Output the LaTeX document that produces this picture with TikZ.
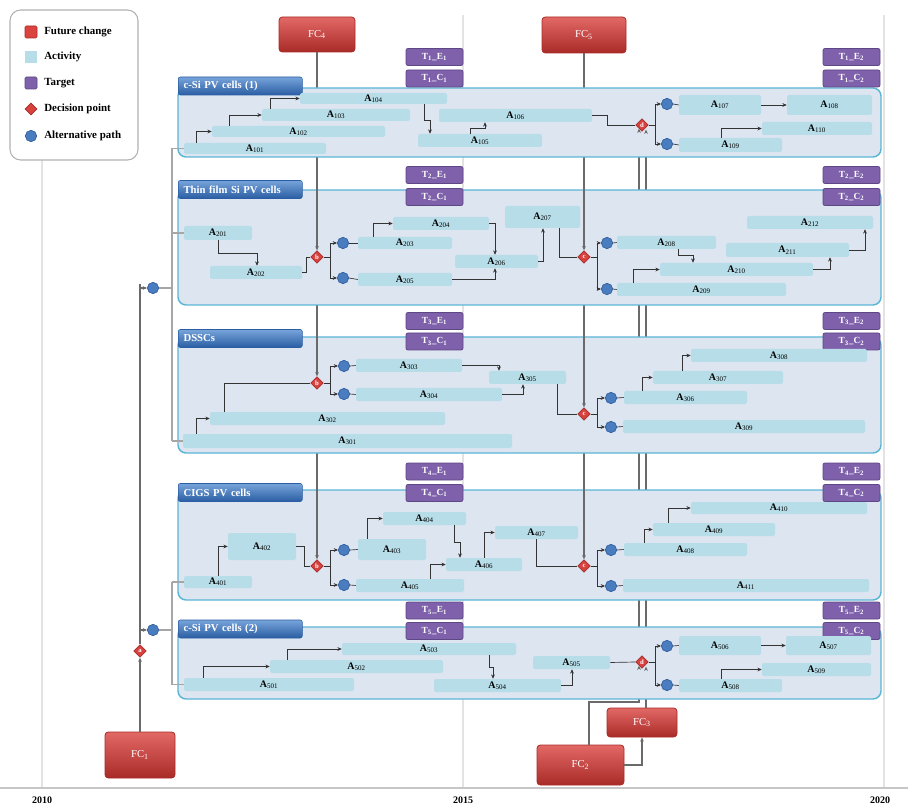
\documentclass[tikz,border=0pt]{standalone}
\usepackage{fontspec}
\setmainfont{Liberation Serif}
\usetikzlibrary{arrows.meta,calc,shapes.geometric}
\definecolor{panelfill}{HTML}{DDE5F1}
\definecolor{panelline}{HTML}{5BB5D5}
\definecolor{actfill}{HTML}{B6DDE8}
\definecolor{tgtfill}{HTML}{7E61AA}
\definecolor{tgtline}{HTML}{5E4785}
\definecolor{fcfill}{HTML}{DB433F}
\definecolor{fcdark}{HTML}{A92B28}
\definecolor{tabfill}{HTML}{3C7DCA}
\definecolor{tabdark}{HTML}{2A5DA3}
\definecolor{altfill}{HTML}{4A7DC0}
\definecolor{altline}{HTML}{2F5E9C}
\definecolor{decfill}{HTML}{D9413E}
\definecolor{decdark}{HTML}{A52E2B}
\definecolor{fcline}{HTML}{6A6A6A}
\definecolor{connline}{HTML}{333333}
\newcommand\actl[1]{A\textsubscript{\mdseries#1}}
\newcommand\tgl[3]{T\textsubscript{#1}\_#2\textsubscript{#3}}
\newcommand\fct[1]{FC\textsubscript{#1}}
\newcommand\BX[7][]{%
  \pgfmathsetmacro\bxw{(#5-#3)*0.75}%
  \pgfmathsetmacro\bxh{(#6-#4)*0.75}%
  \node[#1, minimum width=\bxw pt, minimum height=\bxh pt] (#2) at ({(#3+#5)/2},{(#4+#6)/2}) {#7};}
\begin{document}
\begin{tikzpicture}[x=0.75pt,y=-0.75pt,
 act/.style={fill=actfill, rounded corners=1.2pt, inner sep=0pt, font=\fontsize{7.5}{8}\selectfont\bfseries},
 panel/.style={draw=panelline, fill=panelfill, line width=1.1pt, rounded corners=6pt},
 tab/.style={draw=tabdark, top color=tabfill!70!white, bottom color=tabdark, rounded corners=1.5pt, text=white, font=\fontsize{8}{9}\selectfont\bfseries, text width=85pt, inner xsep=4pt, inner ysep=0pt, align=left, minimum height=13.5pt, anchor=west},
 tgt/.style={draw=tgtline, fill=tgtfill, rounded corners=1.5pt, text=white, font=\fontsize{7}{8}\selectfont\bfseries, minimum width=42.75pt, minimum height=12.75pt, inner sep=0pt, line width=0.6pt},
 fcbox/.style={draw=fcdark, top color=fcfill!80!white, bottom color=fcdark, rounded corners=2.5pt, text=white, font=\fontsize{8}{9}\selectfont, inner sep=0pt, line width=0.6pt},
 alt/.style={circle, draw=altline, fill=altfill, minimum size=8.5pt, inner sep=0pt, line width=0.5pt},
 dec/.style={diamond, draw=decdark, fill=decfill, minimum size=9.5pt, inner sep=0pt, text=white, font=\fontsize{5}{5}\selectfont\bfseries, line width=0.5pt},
 conn/.style={draw=connline, line width=0.5pt, -{Stealth[length=3.2pt,width=2.8pt]}},
 pl/.style={draw=connline, line width=0.5pt},
 trunk/.style={draw=gray!70, line width=0.8pt},
 fcl/.style={draw=fcline, line width=0.8pt},
 fca/.style={draw=fcline, line width=0.8pt, -{Stealth[length=3.2pt,width=2.8pt]}},
 grid/.style={draw=gray!22, line width=0.9pt},
 legtext/.style={font=\fontsize{8.2}{9}\selectfont\bfseries, anchor=west, inner sep=0pt},
 yr/.style={font=\fontsize{7.5}{8}\selectfont\bfseries, inner sep=0pt}
]
\useasboundingbox (0,0) rectangle (908,806);

% ---------- year axis & grid ----------
\coordinate (ax0) at (0,788);
\coordinate (ax1) at (908,788);
\coordinate (g1t) at (42,15);
\coordinate (g2t) at (463,15);
\coordinate (g3t) at (884,15);
\draw[grid] (g1t) -- (g1t |- ax0);
\draw[grid] (g2t) -- (g2t |- ax0);
\draw[grid] (g3t) -- (g3t |- ax0);
\draw[draw=gray!45, line width=1.4pt] (ax0) -- (ax1);
\node[yr] (y2010) at (42,800) {2010};
\node[yr] (y2015) at (463,800) {2015};
\node[yr] (y2020) at (880,800) {2020};

% ---------- decision positions ----------
\coordinate (pd1) at (642,125);
\coordinate (pb2) at (317,257);
\coordinate (pc2) at (584,257);
\coordinate (pb3) at (317,383);
\coordinate (pc3) at (584,414);
\coordinate (pb4) at (317,566);
\coordinate (pc4) at (584,566);
\coordinate (pd5) at (642,662);

% ---------- future changes ----------
\BX[fcbox]{fc4}{279}{17}{355}{52}{\fct{4}}
\BX[fcbox]{fc5}{542}{17}{626}{53}{\fct{5}}
\BX[fcbox]{fc1}{105}{732}{175}{778}{\fct{1}}
\BX[fcbox]{fc2}{537}{745}{624}{785}{\fct{2}}
\BX[fcbox]{fc3}{607}{708}{677}{737}{\fct{3}}

% long future-change lines (hidden behind the panels)
\draw[fcl] (fc4.south) -- (pb4);
\draw[fcl] (fc5.south) -- (pc4);
\draw[fcl] (fc2.north -| 589,0) -- (589,702) -- (639,702) -- ($(pd1)+(-3,0)$);
\draw[fcl] (fc3.north -| 646,0) -- ($(pd1)+(4,0)$);

% ---------- legend ----------
\BX[draw=gray!60, fill=white, rounded corners=8pt, line width=0.8pt]{legend}{10}{10}{138}{160}{}
\node[fill=fcfill, draw=fcdark, minimum size=9pt, inner sep=0pt, rounded corners=1pt] (lg1) at (31,32) {};
\node[fill=actfill, minimum size=9pt, inner sep=0pt] (lg2) at (31,57) {};
\node[fill=tgtfill, draw=tgtline, minimum size=9pt, inner sep=0pt, rounded corners=1pt] (lg3) at (31,83) {};
\node[dec, minimum size=9pt] (lg4) at (31,109) {};
\node[alt, minimum size=8.5pt] (lg5) at (31,136) {};
\node[legtext] (lt1) at (44,32) {Future change};
\node[legtext] (lt2) at (44,57) {Activity};
\node[legtext] (lt3) at (44,83) {Target};
\node[legtext] (lt4) at (44,109) {Decision point};
\node[legtext] (lt5) at (44,136) {Alternative path};

% ---------- panels ----------
\BX[panel]{p1}{178}{88}{881}{157}{}
\BX[panel]{p2}{178}{190}{881}{305}{}
\BX[panel]{p3}{178}{337}{881}{453}{}
\BX[panel]{p4}{178}{490}{881}{600}{}
\BX[panel]{p5}{178}{627}{881}{699}{}

\node[tab] (tb1) at (178,86) {c-Si PV cells (1)};
\node[tab] (tb2) at (178,189.5) {Thin film Si PV cells};
\node[tab] (tb3) at (178,338.5) {DSSCs};
\node[tab] (tb4) at (178,492.5) {CIGS PV cells};
\node[tab] (tb5) at (178,629) {c-Si PV cells (2)};

% ---------- targets ----------
\node[tgt] (t1e1) at (434.5,57) {\tgl{1}{E}{1}};
\node[tgt] (t1c1) at (434.5,78.5) {\tgl{1}{C}{1}};
\node[tgt] (t1e2) at (851.5,57) {\tgl{1}{E}{2}};
\node[tgt] (t1c2) at (851.5,78.5) {\tgl{1}{C}{2}};
\node[tgt] (t2e1) at (434.5,175) {\tgl{2}{E}{1}};
\node[tgt] (t2c1) at (434.5,197) {\tgl{2}{C}{1}};
\node[tgt] (t2e2) at (851.5,175) {\tgl{2}{E}{2}};
\node[tgt] (t2c2) at (851.5,197) {\tgl{2}{C}{2}};
\node[tgt] (t3e1) at (434.5,321) {\tgl{3}{E}{1}};
\node[tgt] (t3c1) at (434.5,341.5) {\tgl{3}{C}{1}};
\node[tgt] (t3e2) at (851.5,321) {\tgl{3}{E}{2}};
\node[tgt] (t3c2) at (851.5,341.5) {\tgl{3}{C}{2}};
\node[tgt] (t4e1) at (434.5,471.5) {\tgl{4}{E}{1}};
\node[tgt] (t4c1) at (434.5,493) {\tgl{4}{C}{1}};
\node[tgt] (t4e2) at (851.5,471.5) {\tgl{4}{E}{2}};
\node[tgt] (t4c2) at (851.5,493) {\tgl{4}{C}{2}};
\node[tgt] (t5e1) at (434.5,610.5) {\tgl{5}{E}{1}};
\node[tgt] (t5c1) at (434.5,631) {\tgl{5}{C}{1}};
\node[tgt] (t5e2) at (851.5,610.5) {\tgl{5}{E}{2}};
\node[tgt] (t5c2) at (851.5,631) {\tgl{5}{C}{2}};

% ---------- activities ----------
\BX[act]{a101}{184}{143}{326}{154}{\actl{101}}
\BX[act]{a102}{212}{126}{385}{137}{\actl{102}}
\BX[act]{a103}{262}{109}{410}{121}{\actl{103}}
\BX[act]{a104}{300}{93}{447}{104}{\actl{104}}
\BX[act]{a105}{418}{134}{542}{147}{\actl{105}}
\BX[act]{a106}{439}{109}{592}{122}{\actl{106}}
\BX[act]{a107}{679}{95}{761}{115}{\actl{107}}
\BX[act]{a108}{787}{95}{872}{115}{\actl{108}}
\BX[act]{a109}{679}{138}{782}{152}{\actl{109}}
\BX[act]{a110}{762}{122}{872}{135}{\actl{110}}

\BX[act]{a201}{184}{226}{252}{240}{\actl{201}}
\BX[act]{a202}{210}{266}{302}{279}{\actl{202}}
\BX[act]{a203}{358}{237}{452}{249}{\actl{203}}
\BX[act]{a204}{393}{217}{489}{230}{\actl{204}}
\BX[act]{a205}{358}{273}{452}{286}{\actl{205}}
\BX[act]{a206}{455}{255}{538}{268}{\actl{206}}
\BX[act]{a207}{505}{206}{580}{228}{\actl{207}}
\BX[act]{a208}{617}{236}{716}{249}{\actl{208}}
\BX[act]{a209}{617}{283}{786}{296}{\actl{209}}
\BX[act]{a210}{660}{263}{813}{276}{\actl{210}}
\BX[act]{a211}{726}{243}{849}{257}{\actl{211}}
\BX[act]{a212}{747}{216}{873}{229}{\actl{212}}

\BX[act]{a301}{183}{434}{512}{448}{\actl{301}}
\BX[act]{a302}{210}{412}{445}{425}{\actl{302}}
\BX[act]{a303}{356}{359}{462}{372}{\actl{303}}
\BX[act]{a304}{356}{388}{502}{401}{\actl{304}}
\BX[act]{a305}{489}{371}{566}{384}{\actl{305}}
\BX[act]{a306}{624}{391}{747}{404}{\actl{306}}
\BX[act]{a307}{653}{371}{783}{384}{\actl{307}}
\BX[act]{a308}{691}{349}{867}{362}{\actl{308}}
\BX[act]{a309}{623}{420}{865}{433}{\actl{309}}

\BX[act]{a401}{184}{576}{252}{588}{\actl{401}}
\BX[act]{a402}{228}{533}{296}{560}{\actl{402}}
\BX[act]{a403}{358}{539}{426}{560}{\actl{403}}
\BX[act]{a404}{383}{512}{466}{525}{\actl{404}}
\BX[act]{a405}{356}{579}{464}{592}{\actl{405}}
\BX[act]{a406}{446}{558}{522}{571}{\actl{406}}
\BX[act]{a407}{495}{526}{578}{539}{\actl{407}}
\BX[act]{a408}{624}{543}{747}{556}{\actl{408}}
\BX[act]{a409}{653}{523}{775}{536}{\actl{409}}
\BX[act]{a410}{691}{502}{867}{514}{\actl{410}}
\BX[act]{a411}{623}{579}{869}{592}{\actl{411}}

\BX[act]{a501}{184}{678}{354}{691}{\actl{501}}
\BX[act]{a502}{270}{660}{443}{673}{\actl{502}}
\BX[act]{a503}{342}{643}{516}{655}{\actl{503}}
\BX[act]{a504}{434}{679}{561}{692}{\actl{504}}
\BX[act]{a505}{533}{656}{610}{669}{\actl{505}}
\BX[act]{a506}{679}{636}{761}{655}{\actl{506}}
\BX[act]{a507}{786}{636}{871}{655}{\actl{507}}
\BX[act]{a508}{679}{679}{782}{692}{\actl{508}}
\BX[act]{a509}{762}{663}{871}{676}{\actl{509}}

% ---------- decision points & alternative paths ----------
\node[dec] (dec0) at (140,651) {a};
\node[dec] (d1) at (pd1) {d};
\node[dec] (b2) at (pb2) {b};
\node[dec] (c2) at (pc2) {c};
\node[dec] (b3) at (pb3) {b};
\node[dec] (c3) at (pc3) {c};
\node[dec] (b4) at (pb4) {b};
\node[dec] (c4) at (pc4) {c};
\node[dec] (d5) at (pd5) {d};

\node[alt] (alt0a) at (153,288) {};
\node[alt] (alt0b) at (153,630) {};
\node[alt] (alt11) at (667,104) {};
\node[alt] (alt12) at (667,144) {};
\node[alt] (alt21) at (343,243) {};
\node[alt] (alt22) at (343,278) {};
\node[alt] (alt23) at (607,243) {};
\node[alt] (alt24) at (607,289) {};
\node[alt] (alt31) at (344,366) {};
\node[alt] (alt32) at (344,394) {};
\node[alt] (alt33) at (611,398) {};
\node[alt] (alt34) at (611,427) {};
\node[alt] (alt41) at (344,550) {};
\node[alt] (alt42) at (344,585) {};
\node[alt] (alt43) at (611,550) {};
\node[alt] (alt44) at (611,586) {};
\node[alt] (alt51) at (667,646) {};
\node[alt] (alt52) at (667,685) {};

% ---------- future change arrows ----------
\draw[fca] (b2.north |- p2.north) -- (b2.north);
\draw[fca] (c2.north |- p2.north) -- (c2.north);
\draw[fca] (b3.north |- p3.north) -- (b3.north);
\draw[fca] (c3.north |- p3.north) -- (c3.north);
\draw[fca] (b4.north |- p4.north) -- (b4.north);
\draw[fca] (c4.north |- p4.north) -- (c4.north);
\draw[fca] (fc1.north) -- (dec0.south);
\coordinate (fctop) at (140,284);
\draw[fcl] (dec0.north) -- (fctop);
\draw[fca] (alt0a.west -| fctop) -- (alt0a.west);
\draw[fca] (alt0b.west -| fctop) -- (alt0b.west);
\draw[fca] ($(d1.south)+(-3,0)$ |- p1.south) -- ($(d1.south)+(-3,-3)$);
\draw[fca] ($(d1.south)+(4,0)$ |- p1.south) -- ($(d1.south)+(4,-2)$);
\draw[fca] ($(d5.south)+(-3,0)$ |- p5.south) -- ($(d5.south)+(-3,-3)$);
\draw[fca] ($(d5.south)+(4,0)$ |- p5.south) -- ($(d5.south)+(4,-2)$);
\draw[fca] (fc2.east) -| (fc3.south);

% ---------- trunks ----------
\coordinate (tr) at (172,0);
\draw[trunk] (alt0a.east) -- (alt0a.east -| tr);
\draw[trunk] (a101.west -| tr) -- (a301.west -| tr);
\draw[trunk] (a101.west -| tr) -- (a101.west);
\draw[trunk] (a201.west -| tr) -- (a201.west);
\draw[trunk] (a301.west -| tr) -- (a301.west);
\draw[trunk] (alt0b.east) -- (alt0b.east -| tr);
\draw[trunk] (a401.west -| tr) -- (a501.west -| tr);
\draw[trunk] (a401.west -| tr) -- (a401.west);
\draw[trunk] (a501.west -| tr) -- (a501.west);

% ---------- panel 1 ----------
\draw[conn] (a101.north -| 196,0) |- (a102.west);
\draw[conn] (a102.north -| 229,0) |- (a103.west);
\draw[conn] (a103.north -| 270,0) |- (a104.west);
\draw[conn] (a104.south -| 424,0) -- (424,120) -- (430,120) -- (a105.north -| 430,0);
\draw[conn] (a105.north -| 470,0) -- (470,128) -| (a106.south -| 485,0);
\draw[pl] (a106.east) -- ++(15,0) |- (d1.west);
\draw[pl] (d1.east) -- ++(7,0) coordinate (d1o);
\draw[conn] (d1o) |- (alt11.west);
\draw[conn] (d1o) |- (alt12.west);
\draw[pl] (alt11.east) -- (a107.west);
\draw[pl] (alt12.east) -- (a109.west);
\draw[conn] (a107.east) -- (a108.west);
\draw[conn] (a109.north -| 721,0) |- (a110.west);

% ---------- panel 2 ----------
\draw[conn] (a201.south -| 218,0) -- (218,253) -| (a202.north -| 257,0);
\draw[pl] (a202.east) -- ++(4,0) |- (b2.west);
\draw[pl] (b2.east) -- ++(7,0) coordinate (b2o);
\draw[conn] (b2o) |- (alt21.west);
\draw[conn] (b2o) |- (alt22.west);
\draw[pl] (alt21.east) -- (a203.west);
\draw[pl] (alt22.east) -- (a205.west);
\draw[conn] (a203.north -| 373,0) |- (a204.west);
\draw[conn] (a204.east) -| (a206.north -| 495,0);
\draw[conn] (a205.east) -| (a206.south -| 495,0);
\draw[conn] (a206.east) -| (a207.south -| 543,0);
\draw[pl] (a207.south -| 559,0) |- (c2.west);
\draw[pl] (c2.east) -- ++(7,0) coordinate (c2o);
\draw[conn] (c2o) |- (alt23.west);
\draw[conn] (c2o) |- (alt24.west);
\draw[pl] (alt23.east) -- (a208.west);
\draw[pl] (alt24.east) -- (a209.west);
\draw[conn] (a208.south -| 678,0) -- (678,255) -| (a210.north -| 693,0);
\draw[conn] (a209.north -| 633,0) |- (a210.west);
\draw[conn] (a210.east) -| (a211.south -| 830,0);
\draw[conn] (a211.east) -| (a212.south -| 865,0);

% ---------- panel 3 ----------
\draw[conn] (a301.north -| 196,0) |- (a302.west);
\draw[pl] (a302.north -| 224,0) |- (b3.west);
\draw[pl] (b3.east) -- ++(7,0) coordinate (b3o);
\draw[conn] (b3o) |- (alt31.west);
\draw[conn] (b3o) |- (alt32.west);
\draw[pl] (alt31.east) -- (a303.west);
\draw[pl] (alt32.east) -- (a304.west);
\draw[conn] (a303.east) -| (a305.north -| 499,0);
\draw[conn] (a304.east) -| (a305.south -| 523,0);
\draw[pl] (a305.south -| 557,0) |- (c3.west);
\draw[pl] (c3.east) -- ++(7,0) coordinate (c3o);
\draw[conn] (c3o) |- (alt33.west);
\draw[conn] (c3o) |- (alt34.west);
\draw[pl] (alt33.east) -- (a306.west);
\draw[pl] (alt34.east) -- (a309.west);
\draw[conn] (a306.north -| 642,0) |- (a307.west);
\draw[conn] (a307.north -| 682,0) |- (a308.west);

% ---------- panel 4 ----------
\draw[conn] (a401.north -| 218,0) |- (a402.west);
\draw[pl] (a402.east) -- ++(8,0) |- (b4.west);
\draw[pl] (b4.east) -- ++(7,0) coordinate (b4o);
\draw[conn] (b4o) |- (alt41.west);
\draw[conn] (b4o) |- (alt42.west);
\draw[pl] (alt41.east) -- (a403.west);
\draw[pl] (alt42.east) -- (a405.west);
\draw[conn] (a403.north -| 367,0) |- (a404.west);
\draw[conn] (a404.south -| 454,0) -- (454,542) -| (a406.north -| 460,0);
\draw[conn] (a405.north -| 430,0) |- (a406.west);
\draw[conn] (a406.north -| 484,0) |- (a407.west);
\draw[pl] (a407.south -| 536,0) |- (c4.west);
\draw[pl] (c4.east) -- ++(7,0) coordinate (c4o);
\draw[conn] (c4o) |- (alt43.west);
\draw[conn] (c4o) |- (alt44.west);
\draw[pl] (alt43.east) -- (a408.west);
\draw[pl] (alt44.east) -- (a411.west);
\draw[conn] (a408.north -| 644,0) |- (a409.west);
\draw[conn] (a409.north -| 668,0) |- (a410.west);

% ---------- panel 5 ----------
\draw[conn] (a501.north -| 203,0) |- (a502.west);
\draw[conn] (a502.north -| 287,0) |- (a503.west);
\draw[conn] (a503.south -| 489,0) -- (489,667) -| (a504.north -| 493,0);
\draw[conn] (a504.east) -| (a505.south -| 572,0);
\draw[pl] (a505.east) -- (d5.west);
\draw[pl] (d5.east) -- ++(7,0) coordinate (d5o);
\draw[conn] (d5o) |- (alt51.west);
\draw[conn] (d5o) |- (alt52.west);
\draw[pl] (alt51.east) -- (a506.west);
\draw[pl] (alt52.east) -- (a508.west);
\draw[conn] (a506.east) -- (a507.west);
\draw[conn] (a508.north -| 721,0) |- (a509.west);
\end{tikzpicture}
\end{document}
